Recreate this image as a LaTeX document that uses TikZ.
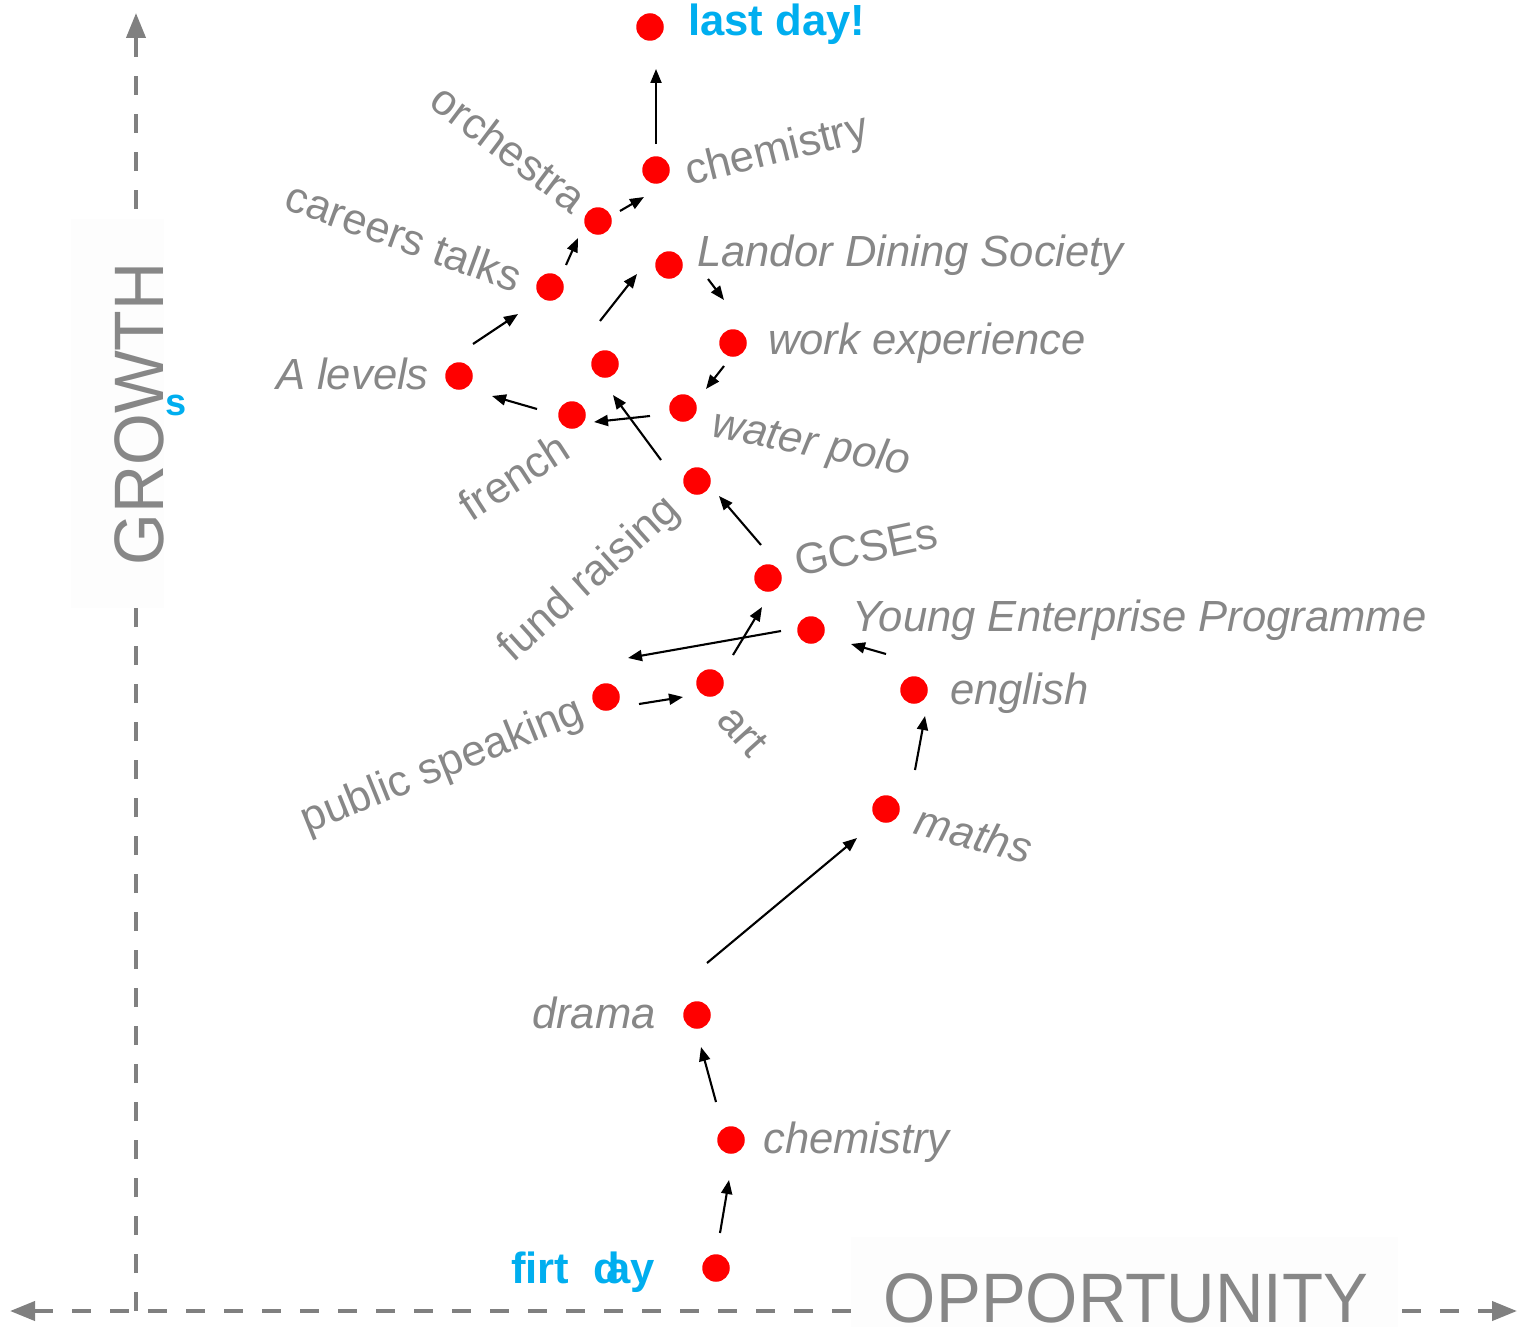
\documentclass[tikz,border=0pt]{standalone}
\usepackage{fontspec}
\setmainfont{Liberation Sans}
\usetikzlibrary{arrows.meta,calc}
\definecolor{dotred}{HTML}{FF0000}
\definecolor{lblgray}{HTML}{878787}
\definecolor{axgray}{HTML}{808080}
\definecolor{hiblue}{HTML}{00AEEF}
\definecolor{boxfill}{HTML}{FDFDFD}
\tikzset{bigtip/.tip={Triangle[length=25pt,width=19pt]}}
\begin{document}
\begin{tikzpicture}[x=1pt,y=-1pt,
  dot/.style={circle,fill=dotred,minimum size=27.5pt,inner sep=0pt},
  lbl/.style={text=lblgray,font=\fontsize{43.6}{50}\selectfont,inner sep=0pt},
  ilbl/.style={text=lblgray,font=\fontsize{43.6}{50}\selectfont\itshape,inner sep=0pt},
  blbl/.style={text=hiblue,font=\fontsize{43.6}{50}\selectfont\bfseries,inner sep=0pt},
  biglbl/.style={text=lblgray,font=\fontsize{70}{80}\selectfont,inner sep=0pt},
  arr/.style={-{Triangle[length=14pt,width=11pt]},line width=2.1pt,black},
  axisline/.style={axgray,line width=4pt,dash pattern=on 19pt off 19pt}
]
\useasboundingbox (0,0) rectangle (1517,1327);
% axes
\coordinate (origin) at (136,1311);
\coordinate (xleft) at (10,1311);
\coordinate (xright) at (1517,1311);
\coordinate (ytop) at (136,13);
\draw[axisline,bigtip-bigtip] (xleft) -- (xright);
\draw[axisline,-bigtip] (origin) -- (ytop);
% label backgrounds
\fill[boxfill] (71,219) rectangle (164,608);
\fill[boxfill] (851,1237) rectangle (1398,1327);
\node[biglbl,rotate=90,anchor=base] (growth) at (163,414) {\scalebox{0.95}[1]{GROWTH}};
\node[biglbl,anchor=base] (opp) at (1126,1322) {\scalebox{0.96}[1]{OPPORTUNITY}};
\node[text=hiblue,font=\fontsize{38}{40}\selectfont\bfseries,inner sep=0pt,anchor=base west] (sletter) at (165,415) {s};
% dots
\node[dot] (firt) at (716,1268) {};
\node[dot] (chemA) at (731,1140) {};
\node[dot] (drama) at (697,1015) {};
\node[dot] (maths) at (886,809) {};
\node[dot] (english) at (914,690) {};
\node[dot] (yep) at (811,630) {};
\node[dot] (pubsp) at (606,697) {};
\node[dot] (art) at (710,683) {};
\node[dot] (gcse) at (768,578) {};
\node[dot] (fund) at (697,481) {};
\node[dot] (water) at (683,408) {};
\node[dot] (work) at (733,343) {};
\node[dot] (landor) at (669,265) {};
\node[dot] (mid) at (605,364) {};
\node[dot] (french) at (572,415) {};
\node[dot] (alev) at (459,376) {};
\node[dot] (careers) at (550,287) {};
\node[dot] (orch) at (598,221) {};
\node[dot] (chemB) at (656,170) {};
\node[dot] (last) at (650,27) {};
% labels
\node[blbl,anchor=base west] (lfirt) at (511,1283) {firt};
\node[blbl,anchor=base west] (lay) at (606,1283) {ay};
\node[blbl,anchor=base west] (ld) at (593,1283) {d};
\node[blbl,anchor=base west] (llast) at (688,36) {last day!};
\node[ilbl,anchor=base west] (lchemA) at (763,1153) {chemistry};
\node[ilbl,anchor=base east] (ldrama) at (656,1028) {drama};
\node[ilbl,anchor=center,rotate=-15] (lmaths) at (974,834) {maths};
\node[ilbl,anchor=base west] (lenglish) at (950,704) {english};
\node[ilbl,anchor=base west] (lyep) at (852,631) {Young Enterprise Programme};
\node[lbl,anchor=center,rotate=22] (lpubsp) at (443,767) {public speaking};
\node[lbl,anchor=center,rotate=-48] (lart) at (743,731) {art};
\node[lbl,anchor=center,rotate=12] (lgcse) at (866,547) {GCSEs};
\node[lbl,anchor=center,rotate=42] (lfund) at (590,580) {fund raising};
\node[ilbl,anchor=center,rotate=-11] (lwater) at (811,445) {water polo};
\node[ilbl,anchor=base west] (lwork) at (768,354) {work experience};
\node[ilbl,anchor=base west] (llandor) at (697,266) {Landor Dining Society};
\node[lbl,anchor=center,rotate=33] (lfrench) at (514,476) {french};
\node[ilbl,anchor=base east] (lalev) at (429,389) {A levels};
\node[lbl,anchor=center,rotate=-20] (lcareers) at (404,236) {careers talks};
\node[lbl,anchor=center,rotate=-37] (lorch) at (509,148) {orchestra};
\node[lbl,anchor=center,rotate=14] (lchemB) at (777,152) {chemistry};
% arrows
\draw[arr] ($(firt)+(4,-35)$) -- ($(chemA)+(-2,40)$);
\draw[arr] ($(chemA)+(-15,-38)$) -- ($(drama)+(4,32)$);
\draw[arr] ($(drama)+(10,-52)$) -- ($(maths)+(-29,29)$);
\draw[arr] ($(maths)+(29,-39)$) -- ($(english)+(11,26)$);
\draw[arr] ($(english)+(-28,-36)$) -- ($(yep)+(40,14)$);
\draw[arr] ($(yep)+(-30,1)$) -- ($(pubsp)+(22,-39)$);
\draw[arr] ($(pubsp)+(33,7)$) -- ($(art)+(-27,14)$);
\draw[arr] ($(art)+(23,-28)$) -- ($(gcse)+(-6,29)$);
\draw[arr] ($(gcse)+(-7,-33)$) -- ($(fund)+(22,15)$);
\draw[arr] ($(fund)+(-36,-21)$) -- ($(mid)+(8,31)$);
\draw[arr] ($(water)+(-33,8)$) -- ($(french)+(22,7)$);
\draw[arr] ($(work)+(-9,23)$) -- ($(water)+(23,-19)$);
\draw[arr] ($(landor)+(39,14)$) -- ($(work)+(-9,-43)$);
\draw[arr] ($(mid)+(-5,-43)$) -- ($(landor)+(-32,9)$);
\draw[arr] ($(french)+(-35,-6)$) -- ($(alev)+(33,20)$);
\draw[arr] ($(alev)+(14,-32)$) -- ($(careers)+(-32,27)$);
\draw[arr] ($(careers)+(16,-22)$) -- ($(orch)+(-20,17)$);
\draw[arr] ($(orch)+(22,-10)$) -- ($(chemB)+(-12,27)$);
\draw[arr] ($(chemB)+(0,-26)$) -- ($(last)+(6,42)$);
\end{tikzpicture}
\end{document}
